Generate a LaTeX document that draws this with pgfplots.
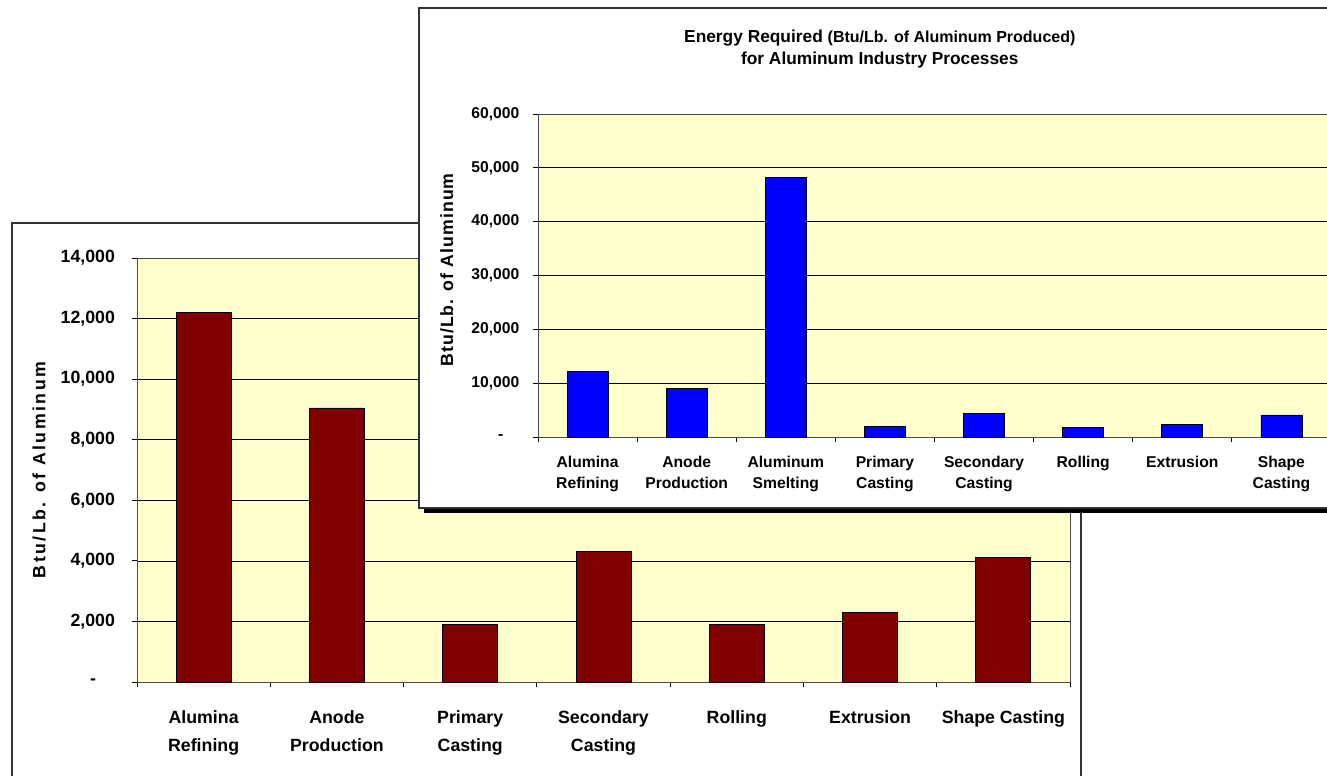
\documentclass[border=0pt]{standalone}
\usepackage{pgfplots}
\pgfplotsset{compat=1.18}
\usepackage{fontspec}
\setmainfont{Liberation Sans}
\definecolor{plotbg}{HTML}{FFFFCC}
\definecolor{barred}{HTML}{800000}
\definecolor{barblue}{HTML}{0000FF}

\pgfplotstableread{
x value
0 12200
1 9050
2 1900
3 4300
4 1900
5 2300
6 4100
}\backdata

\pgfplotstableread{
x value
0 12200
1 9100
2 48200
3 1900
4 4300
5 1850
6 2300
7 4100
}\insetdata

\begin{document}
\begin{tikzpicture}[x=0.75pt,y=0.75pt]
\useasboundingbox (0,0) rectangle (1327,775);
\clip (0,0) rectangle (1327,775);
\fill[white] (0,0) rectangle (1327,775);
% back chart frame
\draw[black!80, line width=1.1pt] (12,552) rectangle (1081,-20);
\begin{axis}[
  at={(102.75pt,69.75pt)}, anchor=south west, scale only axis,
  width=699.75pt, height=318pt,
  axis background/.style={fill=plotbg},
  axis line style={draw=black!70, line width=0.7pt},
  ybar, bar width=41.25pt, bar shift=0pt,
  ymin=0, ymax=14000, xmin=-0.5, xmax=6.5,
  scaled y ticks=false,
  ytick={0,2000,...,14000},
  yticklabels={-\rule{14.25pt}{0pt},{2,000},{4,000},{6,000},{8,000},{10,000},{12,000},{14,000}},
  xtick={0,...,6},
  xticklabels={Alumina\\Refining,Anode\\Production,Primary\\Casting,Secondary\\Casting,Rolling,Extrusion,Shape Casting},
  minor xtick={-0.5,0.5,...,6.5},
  major x tick style={draw=none},
  minor x tick style={black, line width=0.6pt},
  y tick style={black, line width=0.6pt},
  major tick length=4pt, minor tick length=4pt,
  tick align=outside, xtick pos=bottom, ytick pos=left,
  ymajorgrids, major grid style={black, line width=0.5pt},
  ticklabel style={font=\fontsize{13.3}{21}\selectfont\bfseries},
  xticklabel style={align=center, yshift=-14pt},
  yticklabel style={xshift=-9pt},
  ylabel={Btu/Lb. of Aluminum},
  ylabel style={at={(axis description cs:-0.105,0.5)}, anchor=center,
    font=\fontsize{13.3}{16}\selectfont\bfseries\addfontfeature{LetterSpace=14}},
]
\addplot[fill=barred, draw=black, line width=0.6pt] table[x=x,y=value]{\backdata};
\end{axis}
% inset chart box with shadow
\fill[black] (424,262) rectangle (1340,763);
\filldraw[fill=white, draw=black!80, line width=0.9pt] (419,267) rectangle (1345,767);
\begin{axis}[
  at={(403.5pt,253.5pt)}, anchor=south west, scale only axis,
  width=594.75pt, height=242.25pt,
  axis background/.style={fill=plotbg},
  axis line style={draw=black!70, line width=0.7pt},
  ybar, bar width=30.75pt, bar shift=0pt,
  ymin=0, ymax=60000, xmin=-0.5, xmax=7.5,
  scaled y ticks=false,
  ytick={0,10000,...,60000},
  yticklabels={-\rule{12pt}{0pt},{10,000},{20,000},{30,000},{40,000},{50,000},{60,000}},
  xtick={0,...,7},
  xticklabels={Alumina\\Refining,Anode\\Production,Aluminum\\Smelting,Primary\\Casting,Secondary\\Casting,Rolling,Extrusion,Shape\\Casting},
  minor xtick={-0.5,0.5,...,7.5},
  major x tick style={draw=none},
  minor x tick style={black, line width=0.6pt},
  y tick style={black, line width=0.6pt},
  major tick length=4pt, minor tick length=4pt,
  tick align=outside, xtick pos=bottom, ytick pos=left,
  ymajorgrids, major grid style={black, line width=0.5pt},
  ticklabel style={font=\fontsize{11.75}{15.75}\selectfont\bfseries},
  xticklabel style={align=center, yshift=-7pt},
  yticklabel style={xshift=-6.5pt},
  ylabel={Btu/Lb. of Aluminum},
  ylabel style={at={(axis description cs:-0.1148,0.517)}, anchor=center,
    font=\fontsize{13.3}{16}\selectfont\bfseries\addfontfeature{LetterSpace=6}},
  title={Energy Required {\fontsize{12}{13}\selectfont(Btu/Lb. of Aluminum Produced)}\\for Aluminum Industry Processes},
  title style={at={(axis description cs:0.431,1.176)}, anchor=center, align=center,
    font=\fontsize{13}{16.5}\selectfont\bfseries},
]
\addplot[fill=barblue, draw=black, line width=0.6pt] table[x=x,y=value]{\insetdata};
\end{axis}
\end{tikzpicture}
\end{document}
